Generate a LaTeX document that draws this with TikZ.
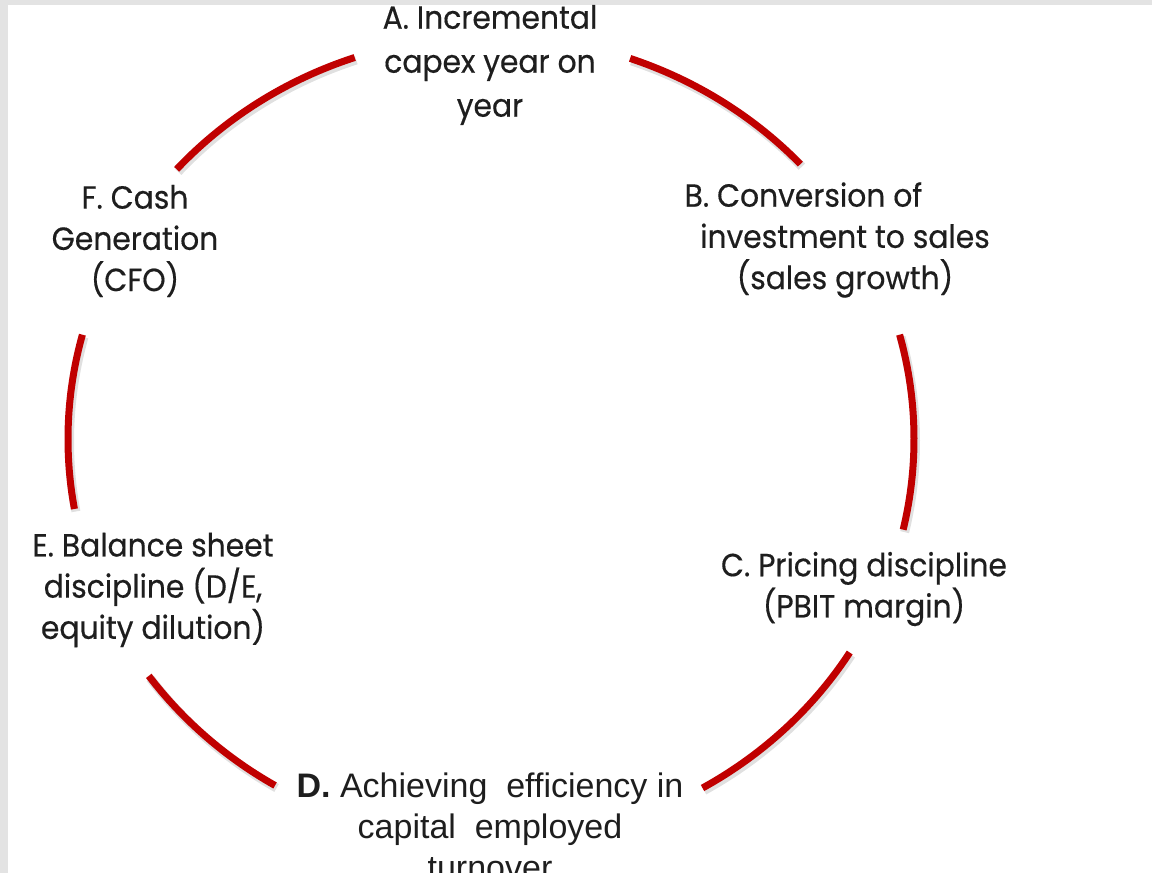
\documentclass[tikz,border=0pt]{standalone}
\usepackage{fontspec}
\newfontfamily\geo{Poppins}[FakeStretch=0.93,FakeBold=0.4]
\newfontfamily\arl{Liberation Sans}
\definecolor{arcred}{HTML}{C00000}
\definecolor{txt}{HTML}{1E1E1E}
\tikzset{
  ring/.style={draw=arcred, line width=3.5pt},
  ringshadow/.style={draw=black, opacity=0.12, line width=4.5pt},
  lbl/.style={inner sep=0pt, align=center, text=txt, font=\geo\fontsize{16}{20.6}\selectfont},
  dlbl/.style={inner sep=0pt, align=center, text=txt, font=\arl\fontsize{17}{20.5}\selectfont}
}
\begin{document}
\begin{tikzpicture}[x=0.5pt,y=0.5pt]
\useasboundingbox (0,0) rectangle (1152,873);
\clip (0,0) rectangle (1152,873);
\fill[black!11] (0,0) rectangle (1152,873);
\fill[white] (8,0) rectangle (1152,868);
\coordinate (O) at (491,434);
\foreach \a/\b in {108.8/138, 70.8/43, 15/-13, -32/-60, -120.7/-144, 165/190}{
  \draw[ringshadow] ([shift={(\a:423 and 403)}]O) ++(1.5,-2.5) arc[start angle=\a, end angle=\b, x radius=423, y radius=403];
  \draw[ring] ([shift={(\a:423 and 403)}]O) arc[start angle=\a, end angle=\b, x radius=423, y radius=403];
}
\node[lbl, font=\geo\fontsize{16}{22}\selectfont] (A) at (490,808) {A. Incremental\\capex year on\\year};
\node[lbl] (F) at (135,632) {F. Cash\\Generation\\(CFO)};
\node[lbl] (B) at (845,633) {B. Conversion of\hspace*{2.6em}\\investment to sales\\(sales growth)};
\node[lbl] (E) at (153,283) {E. Balance sheet\\discipline (D/E,\\equity dilution)};
\node[lbl] (C) at (864,284) {C. Pricing discipline\\(PBIT margin)};
\node[dlbl] (D) at (490,47) {\textbf{D.} Achieving\ \ efficiency in\\capital\ \ employed\\turnover};
\end{tikzpicture}
\end{document}
